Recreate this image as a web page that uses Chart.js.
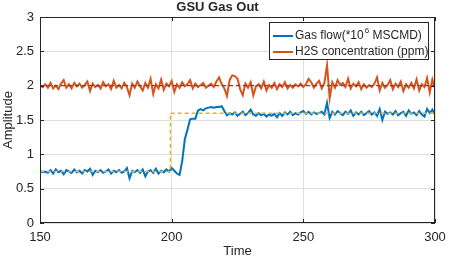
<!DOCTYPE html>
<html>
<head>
<meta charset="utf-8">
<title>GSU Gas Out</title>
<script src="https://cdn.jsdelivr.net/npm/chart.js@4.4.1/dist/chart.umd.min.js"></script>
<style>
  html, body { margin: 0; padding: 0; background: #fff; }
  #chart { display: block; }
</style>
</head>
<body>
<canvas id="chart" width="461" height="256"></canvas>
<script>
// ── Data ──────────────────────────────────────────────────
const timeStart = 150;   // first sample, one sample per time unit
const gasFlow = [
  0.76, 0.74, 0.75, 0.73, 0.77, 0.72, 0.78, 0.74, 0.76, 0.71,
  0.77, 0.75, 0.73, 0.78, 0.74, 0.76, 0.72, 0.77, 0.75, 0.79,
  0.70, 0.76, 0.74, 0.77, 0.73, 0.75, 0.78, 0.72, 0.76, 0.74,
  0.77, 0.73, 0.75, 0.80, 0.65, 0.76, 0.74, 0.77, 0.73, 0.78,
  0.68, 0.75, 0.77, 0.73, 0.79, 0.72, 0.76, 0.74, 0.78, 0.75,
  0.80, 0.76, 0.72, 0.70, 0.90, 1.22, 1.36, 1.51, 1.52, 1.52,
  1.64, 1.66, 1.64, 1.67, 1.68, 1.69, 1.68, 1.69, 1.69, 1.70,
  1.63, 1.57, 1.60, 1.58, 1.61, 1.56, 1.59, 1.62, 1.57, 1.60,
  1.65, 1.58, 1.56, 1.60, 1.57, 1.59, 1.55, 1.58, 1.56, 1.59,
  1.54, 1.60, 1.56, 1.61, 1.58, 1.62, 1.57, 1.60, 1.58, 1.61,
  1.63, 1.59, 1.62, 1.58, 1.61, 1.59, 1.60, 1.62, 1.58, 1.75,
  1.53, 1.62, 1.58, 1.63, 1.60, 1.57, 1.62, 1.59, 1.64, 1.56,
  1.61, 1.58, 1.62, 1.57, 1.60, 1.63, 1.58, 1.61, 1.56, 1.66,
  1.50, 1.62, 1.59, 1.61, 1.58, 1.63, 1.57, 1.60, 1.62, 1.56,
  1.64, 1.59, 1.61, 1.57, 1.63, 1.58, 1.55, 1.66, 1.60, 1.65,
  1.58
];
const h2s = [
  2.01, 1.98, 2.02, 1.97, 2.04, 1.96, 2.00, 1.95, 2.03, 2.08,
  1.97, 2.02, 1.96, 2.04, 1.99, 2.03, 1.97, 2.01, 2.06, 1.92,
  2.03, 1.98, 2.01, 1.96, 2.05, 1.99, 2.02, 1.95, 2.07, 1.97,
  2.01, 1.96, 2.04, 1.98, 1.86, 2.03, 1.97, 2.06, 1.99, 1.93,
  2.04, 1.97, 2.10, 1.88, 2.02, 1.96, 2.09, 1.94, 2.03, 1.99,
  2.07, 1.91, 2.02, 1.97, 2.05, 1.99, 2.02, 2.08, 1.96, 2.03,
  1.98, 2.01, 2.04, 1.97, 2.00, 2.03, 1.98, 2.06, 2.12, 2.02,
  1.96, 1.85, 2.08, 2.15, 2.14, 2.10, 1.95, 1.86, 2.03, 1.97,
  2.05, 1.86, 1.99, 2.02, 1.96, 2.06, 1.93, 2.01, 1.97, 2.04,
  1.95, 2.02, 1.98, 2.05, 1.96, 2.01, 1.97, 2.02, 1.99, 2.03,
  1.98, 2.02, 2.10, 2.05, 1.97, 2.03, 2.07, 1.96, 2.04, 2.30,
  1.82, 2.05, 1.97, 2.08, 2.01, 2.04, 1.98, 2.10, 1.96, 2.03,
  1.99, 2.05, 1.95, 2.02, 1.97, 2.01, 1.98, 2.03, 2.12, 1.93,
  2.04, 1.97, 2.01, 2.08, 1.95, 2.03, 1.98, 2.06, 1.92, 2.02,
  1.97, 2.04, 1.96, 2.09, 1.93, 2.02, 1.98, 2.11, 1.90, 2.09,
  1.96
];
// setpoint references (dashed)
const gasRefX = [150, 199.5, 199.5, 300];
const gasRefY = [0.75, 0.75, 1.6, 1.6];
const h2sRefX = [150, 300];
const h2sRefY = [2, 2];

const xTicks = [150, 200, 250, 300];
const yTicks = [0, 0.5, 1, 1.5, 2, 2.5, 3];
const legendLabels = ["Gas flow(*10", "6", " MSCMD)", "H2S concentration (ppm)"];

// ── Styling ───────────────────────────────────────────────
const FONT = "'Liberation Sans', Arial, Helvetica, sans-serif";
const INK = "#262626";
const BLUE = "#0072bd";
const ORANGE = "#d95319";
const YELLOW = "#edb120";
const PURPLE = "#7e2f8e";

const toPoints = (ys, xs) => ys.map((y, i) => ({ x: xs ? xs[i] : timeStart + i, y }));

// MATLAB style box with inward ticks
const axesBox = {
  id: "axesBox",
  afterDraw(chart) {
    const { ctx, chartArea: a, scales } = chart;
    ctx.save();
    ctx.strokeStyle = INK;
    ctx.lineWidth = 1;
    ctx.strokeRect(a.left + 0.5, a.top + 0.5, a.right - a.left - 1, a.bottom - a.top - 1);
    ctx.beginPath();
    xTicks.forEach((v) => {
      const px = Math.round(scales.x.getPixelForValue(v)) + 0.5;
      ctx.moveTo(px, a.bottom); ctx.lineTo(px, a.bottom - 4);
      ctx.moveTo(px, a.top); ctx.lineTo(px, a.top + 4);
    });
    yTicks.forEach((v) => {
      const py = Math.round(scales.y.getPixelForValue(v)) + 0.5;
      ctx.moveTo(a.left, py); ctx.lineTo(a.left + 4, py);
      ctx.moveTo(a.right, py); ctx.lineTo(a.right - 4, py);
    });
    ctx.stroke();
    ctx.restore();
  }
};

// legend box drawn inside the axes, top right
const insideLegend = {
  id: "insideLegend",
  afterDraw(chart) {
    const { ctx } = chart;
    const x0 = 269.5, y0 = 22.5, w = 159, h = 37;
    ctx.save();
    ctx.fillStyle = "#fff";
    ctx.fillRect(x0, y0, w, h);
    ctx.strokeStyle = INK;
    ctx.lineWidth = 1;
    ctx.strokeRect(x0, y0, w, h);

    const rows = [
      { color: BLUE, y: 36 },
      { color: ORANGE, y: 52 }
    ];
    rows.forEach((r) => {
      ctx.strokeStyle = r.color;
      ctx.lineWidth = 2;
      ctx.beginPath();
      ctx.moveTo(273, r.y); ctx.lineTo(293, r.y);
      ctx.stroke();
    });

    ctx.fillStyle = INK;
    ctx.textBaseline = "middle";
    ctx.font = `12px ${FONT}`;
    let tx = 295;
    ctx.fillText(legendLabels[0], tx, 36);
    tx += ctx.measureText(legendLabels[0]).width + 1;
    ctx.font = `8px ${FONT}`;
    ctx.fillText(legendLabels[1], tx, 31);
    tx += ctx.measureText(legendLabels[1]).width;
    ctx.font = `12px ${FONT}`;
    ctx.fillText(legendLabels[2], tx, 36);
    ctx.fillText(legendLabels[3], 295, 52);
    ctx.restore();
  }
};

// ── Chart ─────────────────────────────────────────────────
new Chart(document.getElementById("chart"), {
  type: "line",
  data: {
    datasets: [
      {
        label: "gas setpoint",
        data: toPoints(gasRefY, gasRefX),
        borderColor: YELLOW,
        borderWidth: 1.5,
        borderDash: [4, 3],
        pointRadius: 0,
        tension: 0
      },
      {
        label: "h2s setpoint",
        data: toPoints(h2sRefY, h2sRefX),
        borderColor: PURPLE,
        borderWidth: 1.2,
        borderDash: [4, 3],
        pointRadius: 0,
        tension: 0
      },
      {
        label: "Gas flow",
        data: toPoints(gasFlow),
        borderColor: BLUE,
        borderWidth: 2,
        pointRadius: 0,
        tension: 0
      },
      {
        label: "H2S concentration (ppm)",
        data: toPoints(h2s),
        borderColor: ORANGE,
        borderWidth: 2,
        pointRadius: 0,
        tension: 0
      }
    ]
  },
  options: {
    responsive: false,
    animation: false,
    devicePixelRatio: 1,
    layout: { padding: { left: 0, right: 26, top: 0, bottom: 0 } },
    plugins: {
      legend: { display: false },
      tooltip: { enabled: false },
      title: {
        display: true,
        text: "GSU Gas Out",
        color: INK,
        font: { family: FONT, size: 13, weight: "bold", lineHeight: 1 },
        padding: { top: 1, bottom: 3 }
      }
    },
    scales: {
      x: {
        type: "linear",
        min: 150,
        max: 300,
        afterBuildTicks: (s) => { s.ticks = xTicks.map((v) => ({ value: v })); },
        afterFit: (s) => { s.height = 33; },
        grid: { color: "#dedede", drawTicks: false },
        border: { display: false },
        ticks: { color: INK, font: { family: FONT, size: 13 }, padding: 7, maxRotation: 0, callback: (v) => String(v) },
        title: {
          display: true,
          text: "Time",
          color: INK,
          font: { family: FONT, size: 13 },
          padding: { top: 0, bottom: -3 }
        }
      },
      y: {
        min: 0,
        max: 3,
        afterBuildTicks: (s) => { s.ticks = yTicks.map((v) => ({ value: v })); },
        afterFit: (s) => { s.width = 40; },
        grid: { color: "#dedede", drawTicks: false },
        border: { display: false },
        ticks: { color: INK, font: { family: FONT, size: 13 }, padding: 6, callback: (v) => String(v) },
        title: {
          display: true,
          text: "Amplitude",
          color: INK,
          font: { family: FONT, size: 13 },
          padding: { top: 1, bottom: 0 }
        }
      }
    }
  },
  plugins: [axesBox, insideLegend]
});
</script>
</body>
</html>
